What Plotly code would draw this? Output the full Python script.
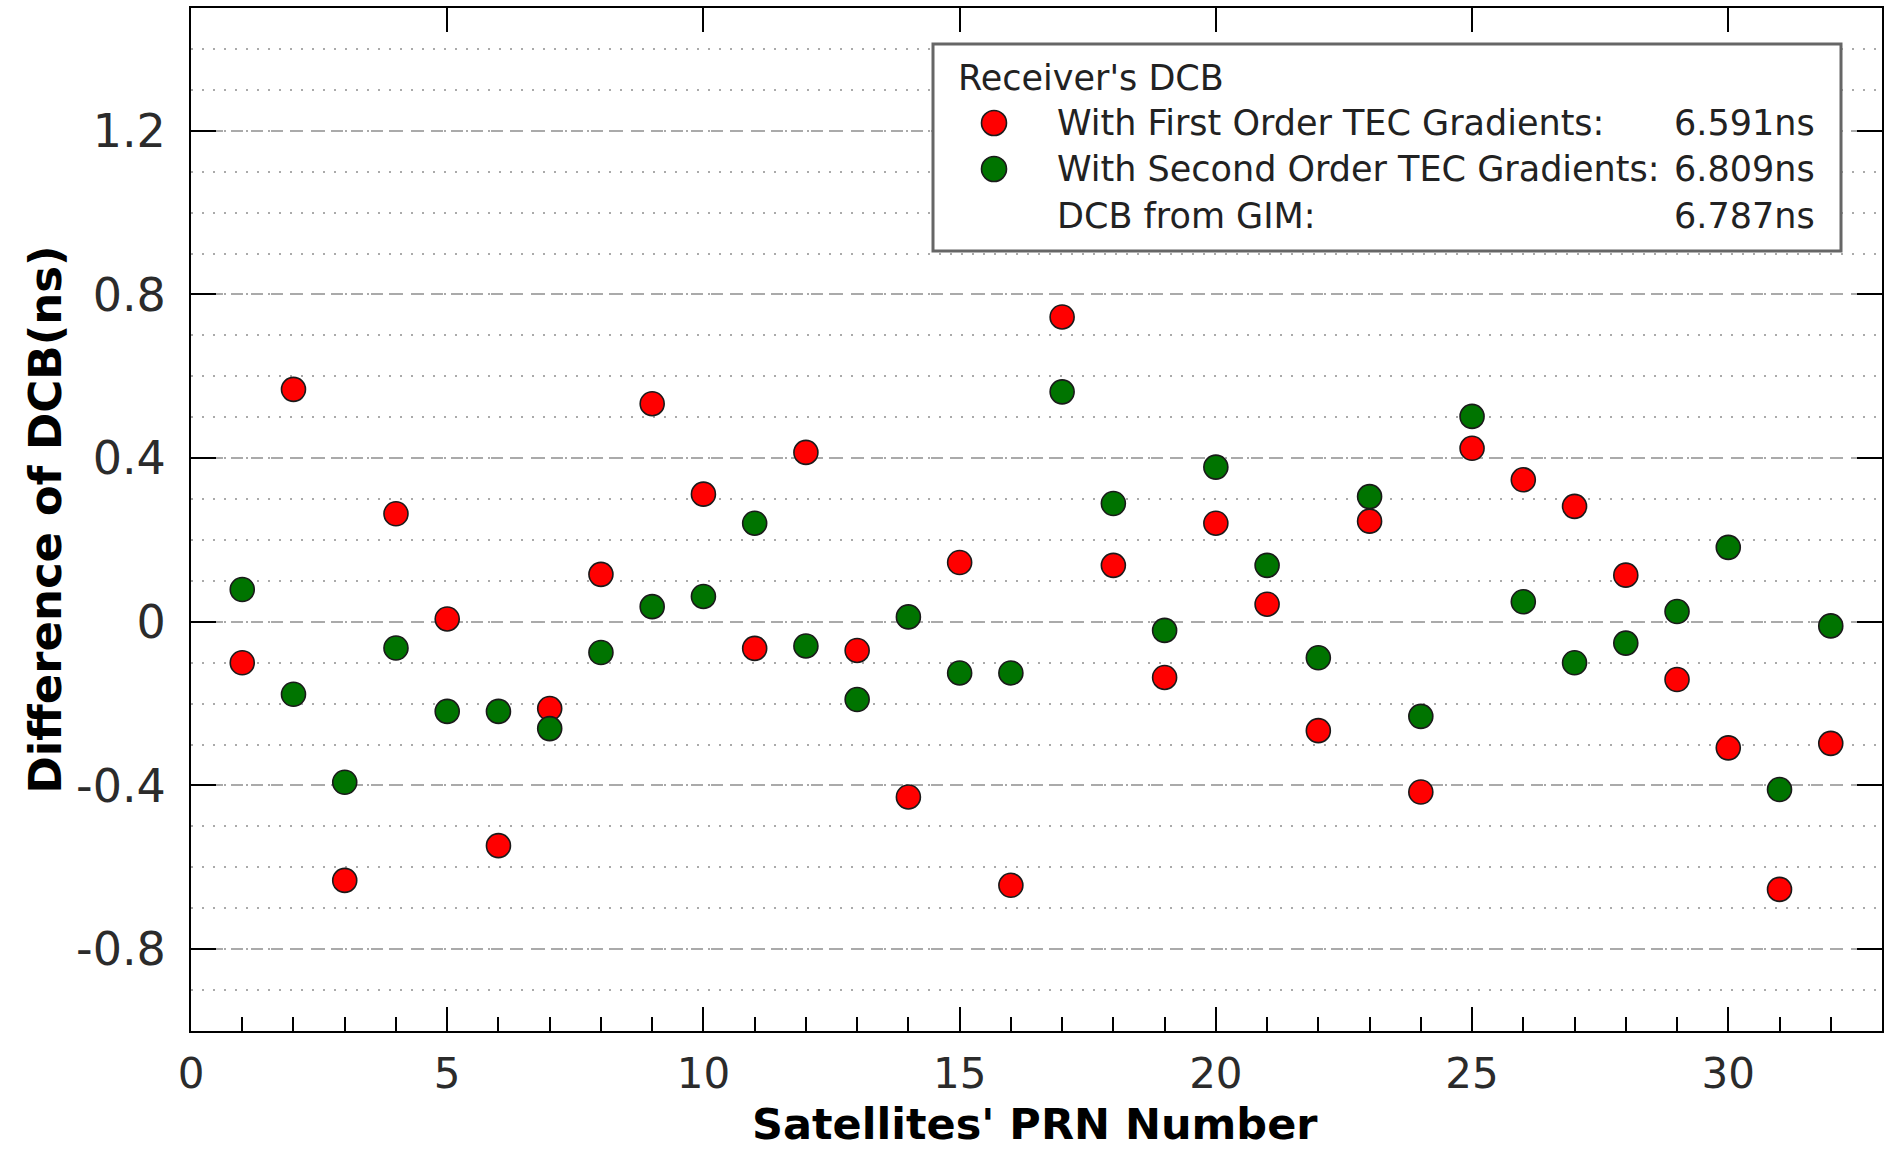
import plotly.graph_objects as go

# Satellite PRN numbers
prn = list(range(1, 33))

# Difference of DCB (ns) per satellite, first-order TEC gradient model
first_order = [-0.100, 0.568, -0.632, 0.264, 0.007, -0.547, -0.212, 0.116,
               0.533, 0.312, -0.065, 0.414, -0.070, -0.428, 0.145, -0.644,
               0.745, 0.138, -0.136, 0.241, 0.043, -0.266, 0.246, -0.416,
               0.424, 0.347, 0.282, 0.114, -0.141, -0.308, -0.654, -0.297]

# Difference of DCB (ns) per satellite, second-order TEC gradient model
second_order = [0.079, -0.177, -0.392, -0.064, -0.219, -0.219, -0.261, -0.075,
                0.037, 0.062, 0.241, -0.059, -0.190, 0.012, -0.125, -0.125,
                0.562, 0.289, -0.021, 0.378, 0.138, -0.088, 0.306, -0.231,
                0.502, 0.049, -0.100, -0.052, 0.025, 0.182, -0.410, -0.010]

# Receiver DCB summary shown in the legend box
legend_title = "Receiver's DCB"
legend_labels = ["With First Order TEC Gradients:",
                 "With Second Order TEC Gradients:",
                 "DCB from GIM:"]
legend_values = ["6.591ns", "6.809ns", "6.787ns"]

y_tickvals = [-0.8, -0.4, 0, 0.4, 0.8, 1.2]
y_ticktext = ["-0.8", "-0.4", "0", "0.4", "0.8", "1.2"]

x_title = "Satellites' PRN Number"
y_title = "Difference of DCB(ns)"

RED = "#ff0000"
GREEN = "#007400"
EDGE = "#1a1a1a"
FONT = "DejaVu Sans"

W, H = 1884, 1150
ML, MR, MT, MB = 191, 2, 8, 119
PW, PH = W - ML - MR, H - MT - MB


def px_x(px):
    return (px - ML) / PW


def px_y(py):
    return (H - MB - py) / PH


fig = go.Figure()

fig.add_trace(go.Scatter(
    x=prn, y=first_order, mode="markers", name=legend_labels[0],
    marker=dict(size=24, color=RED, line=dict(color=EDGE, width=1.6)),
    showlegend=False,
))
fig.add_trace(go.Scatter(
    x=prn, y=second_order, mode="markers", name=legend_labels[1],
    marker=dict(size=24, color=GREEN, line=dict(color=EDGE, width=1.6)),
    showlegend=False,
))
# empty trace so the top tick axis is drawn
fig.add_trace(go.Scatter(x=[None], y=[None], xaxis="x2", showlegend=False,
                         hoverinfo="skip"))

# legend box
shapes = [dict(type="rect", xref="paper", yref="paper",
               x0=px_x(933), x1=px_x(1841), y0=px_y(251), y1=px_y(44),
               line=dict(color="#666666", width=3), fillcolor="white",
               layer="above")]
legend_font = dict(family=FONT, size=35, color="#222222")
annotations = [dict(text=legend_title, xref="paper", yref="paper",
                    x=px_x(956), y=px_y(78), xanchor="left", yanchor="middle",
                    showarrow=False, font=legend_font)]
row_y = [123, 169, 216]
marker_colors = [RED, GREEN, None]
for label, value, ry, mc in zip(legend_labels, legend_values, row_y, marker_colors):
    if mc is not None:
        shapes.append(dict(type="circle", xref="paper", yref="paper",
                           xsizemode="pixel", ysizemode="pixel",
                           xanchor=px_x(994), yanchor=px_y(ry),
                           x0=-12.5, x1=12.5, y0=-12.5, y1=12.5,
                           fillcolor=mc, line=dict(color=EDGE, width=1.6),
                           layer="above"))
    annotations.append(dict(text=label, xref="paper", yref="paper",
                            x=px_x(1055), y=px_y(ry), xanchor="left", yanchor="middle",
                            showarrow=False, font=legend_font))
    annotations.append(dict(text=value, xref="paper", yref="paper",
                            x=px_x(1817), y=px_y(ry), xanchor="right", yanchor="middle",
                            showarrow=False, font=legend_font))

title_font = dict(family=FONT, size=45, color="#000000", weight="bold")

# x axis title, placed under the tick labels
annotations.append(dict(text=x_title, xref="paper", yref="paper",
                        x=px_x(1035), y=px_y(1124), xanchor="center",
                        yanchor="middle", showarrow=False, borderpad=0,
                        font=dict(family=FONT, size=43, color="#000000",
                                  weight="bold")))

fig.update_layout(
    width=W, height=H,
    margin=dict(l=ML, r=MR, t=MT, b=MB, autoexpand=False),
    paper_bgcolor="white", plot_bgcolor="white",
    showlegend=False,
    shapes=shapes,
    annotations=annotations,
    xaxis=dict(
        range=[0, 33], tick0=0, dtick=5,
        ticks="inside", ticklen=24, tickwidth=2, tickcolor="black",
        minor=dict(dtick=1, tick0=0, ticks="inside", ticklen=14, tickwidth=2,
                   tickcolor="black", showgrid=False),
        showline=True, linewidth=2, linecolor="black", mirror=True,
        showgrid=False, zeroline=False,
        tickfont=dict(family=FONT, size=42, color="#2b2b2b"),
        ticklabelstandoff=5,
    ),
    xaxis2=dict(
        overlaying="x", side="top", matches="x", range=[0, 33],
        tick0=0, dtick=5, ticks="inside", ticklen=24, tickwidth=2, tickcolor="black",
        showticklabels=False, showline=False, showgrid=False, zeroline=False,
    ),
    yaxis=dict(
        range=[-1.0, 1.5],
        tickmode="array", tickvals=y_tickvals, ticktext=y_ticktext,
        ticks="inside", ticklen=25, tickwidth=2, tickcolor="black",
        showline=True, linewidth=2, linecolor="black", mirror="ticks",
        showgrid=True, gridcolor="#aaaaaa", gridwidth=2, griddash="12px,8px",
        minor=dict(tickmode="linear", tick0=0, dtick=0.1, ticks="",
                   showgrid=True, gridcolor="#aaaaaa", gridwidth=2,
                   griddash="2px,9px"),
        zeroline=False,
        tickfont=dict(family=FONT, size=46, color="#2b2b2b"),
        ticklabelstandoff=14,
        title=dict(text=y_title, font=title_font, standoff=0),
    ),
)

fig.write_html("out.html")
